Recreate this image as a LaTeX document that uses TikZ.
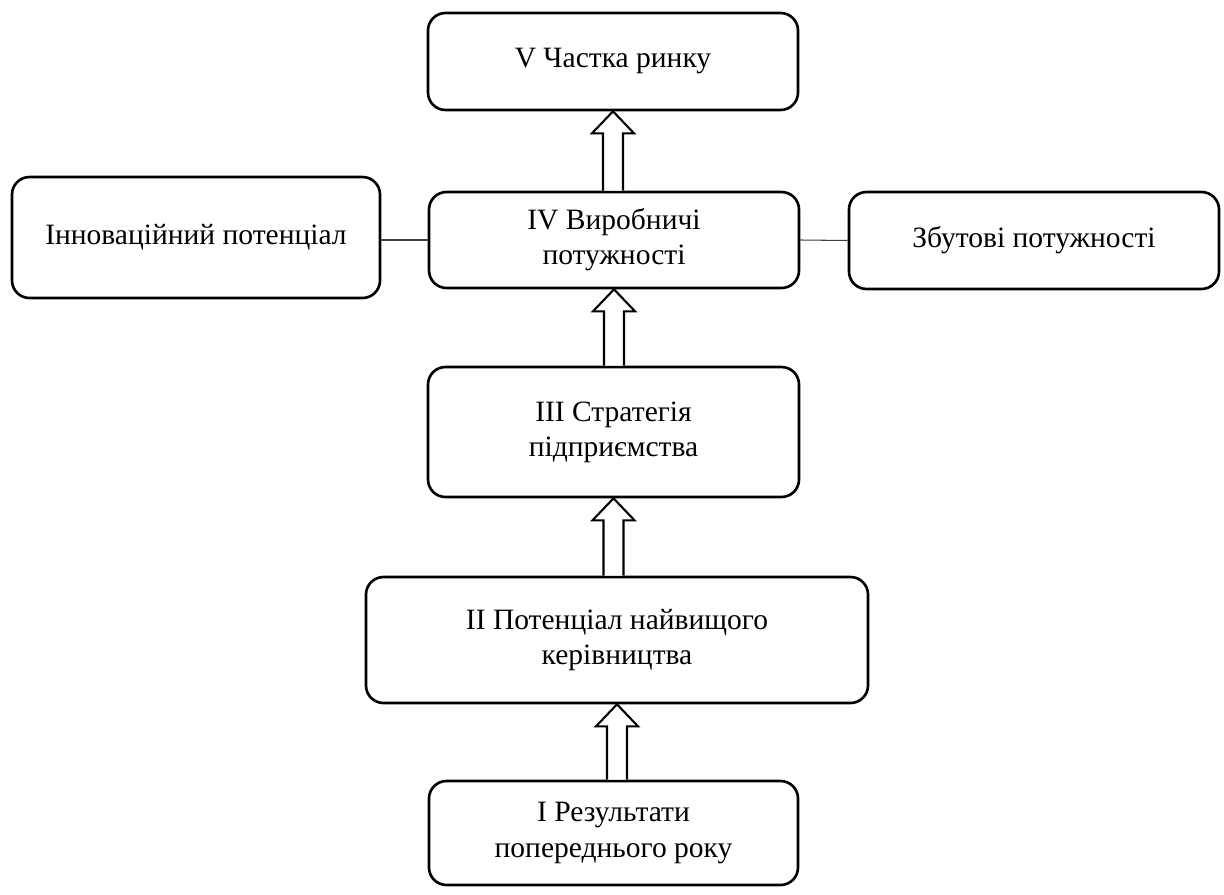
\documentclass[tikz,border=0pt]{standalone}
\usepackage{fontspec}
\setmainfont{Liberation Serif}
\usetikzlibrary{positioning,calc}
\definecolor{cFrame}{HTML}{000000}
\definecolor{cLink}{HTML}{404040}

\tikzset{
  stage/.style={draw=cFrame,rounded corners=0.35cm,line width=1.5pt,align=center,
                minimum width=7.4cm,minimum height=1.94cm,inner sep=0pt,
                font=\fontsize{16.8}{20}\selectfont},
  blockarr/.style={draw=cFrame,line width=1.2pt,line join=miter,fill=white},
  link/.style={draw=cLink,line width=0.6pt}
}
% hollow block arrow from the lower box #1 up to the box #2
\newcommand{\blockup}[2]{%
  \draw[blockarr] let \p1=(#1.north), \p2=(#2.south) in
    (\x2-0.2cm,\y1) -- (\x2-0.2cm,\y2-0.44cm) -- (\x2-0.42cm,\y2-0.44cm) -- (\x2,\y2)
    -- (\x2+0.42cm,\y2-0.44cm) -- (\x2+0.2cm,\y2-0.44cm) -- (\x2+0.2cm,\y1);}

\begin{document}
\begin{tikzpicture}
  \useasboundingbox (0,0) rectangle (24.48,-17.9);

  \node[stage] (share) at (12.26,-1.23) {V Частка ринку};
  \node[stage,minimum height=1.92cm] (prod) at (12.28,-4.8) {IV Виробничі\\потужності};
  \node[stage,minimum width=7.36cm,minimum height=2.42cm] (innov) at (3.92,-4.75) {Інноваційний потенціал};
  \node[stage] (sales) at (20.68,-4.81) {Збутові потужності};
  \node[stage,minimum width=7.42cm,minimum height=2.6cm] (strat) at (12.27,-8.64) {III Стратегія\\підприємства};
  \node[stage,minimum width=10.04cm,minimum height=2.52cm] (mgmt) at (12.34,-12.8) {II Потенціал найвищого\\керівництва};
  \node[stage,minimum width=7.38cm,minimum height=2.08cm] (prev) at (12.27,-16.66) {I Результати\\попереднього року};

  \draw[link] (innov.east |- prod.west) -- (prod.west);
  \draw[link] (prod.east) -- (sales.west);

  \blockup{prod}{share}
  \blockup{strat}{prod}
  \blockup{mgmt}{strat}
  \blockup{prev}{mgmt}
\end{tikzpicture}
\end{document}
